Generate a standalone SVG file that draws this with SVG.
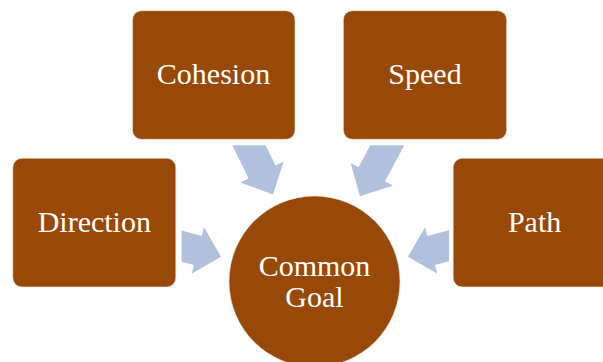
<svg xmlns="http://www.w3.org/2000/svg" width="603" height="362" viewBox="0 0 603 362">
<style>
.box{fill:#984807;stroke:#f4e6da;stroke-width:0.6}
.lbl{font-family:'Liberation Serif','DejaVu Serif',Times,serif;font-size:30px;fill:#ffffff;text-anchor:middle}
.arr{fill:#afc1dd}
</style>
<rect width="603" height="362" fill="#ffffff"/>
<g id="connectors">
<polygon class="arr" points="221,256.7 204.04,227.3 201.71,235.99 181.5,230.57 181.5,261.64 193.93,264.97 191.6,273.66"/>
<polygon class="arr" points="408,256.7 424.96,227.3 427.29,235.99 449,230.2 449,261.2 435.07,264.97 437.4,273.66"/>
<polygon class="arr" points="273,194.5 240.47,182.55 248.56,178.61 232.31,145.3 265.69,145.3 275.52,165.45 283.61,161.51"/>
<polygon class="arr" points="360,196.3 350.64,162.94 358.57,167.18 370.28,145.3 404.32,145.3 385.03,181.34 392.96,185.58"/>
</g>
<g id="direction">
<rect class="box" x="12.8" y="158.3" width="163" height="128.7" rx="9"/>
<text class="lbl" font-family="Liberation Serif, serif" x="94.3" y="231.7">Direction</text>
</g>
<g id="cohesion">
<rect class="box" x="132.5" y="10.7" width="162.5" height="128.6" rx="9"/>
<text class="lbl" font-family="Liberation Serif, serif" x="213.5" y="84.3">Cohesion</text>
</g>
<g id="speed">
<rect class="box" x="343.4" y="10.7" width="163.2" height="128.6" rx="9"/>
<text class="lbl" font-family="Liberation Serif, serif" x="425" y="84.3">Speed</text>
</g>
<g id="path">
<rect class="box" x="453.2" y="158.3" width="163" height="128.7" rx="9"/>
<text class="lbl" font-family="Liberation Serif, serif" x="534.6" y="231.7">Path</text>
</g>
<g id="common-goal">
<circle class="box" cx="314.5" cy="281.5" r="85.5"/>
<text class="lbl" font-family="Liberation Serif, serif" x="314.5" y="276">Common</text>
<text class="lbl" font-family="Liberation Serif, serif" x="314.5" y="306.6">Goal</text>
</g>
</svg>
